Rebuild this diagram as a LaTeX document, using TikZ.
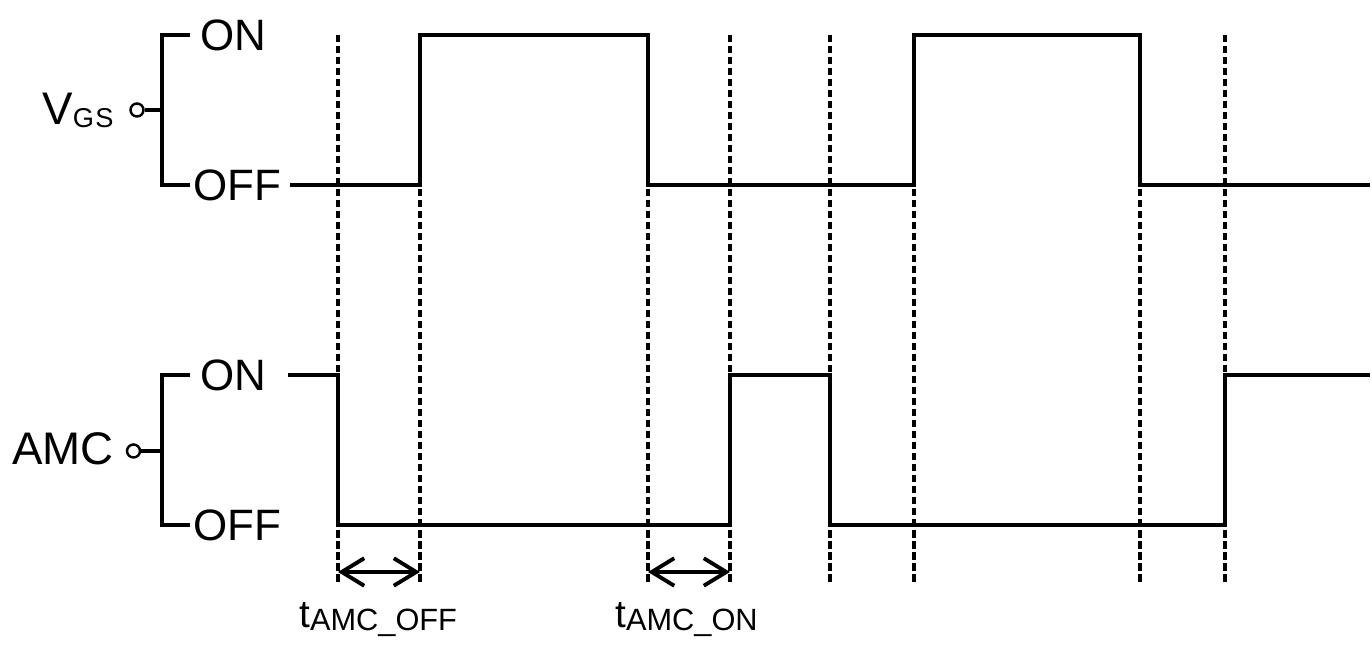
\documentclass[tikz,border=0pt]{standalone}
\usepackage{fontspec}
\setmainfont{Liberation Sans}
\usetikzlibrary{arrows.meta}

\tikzset{
  wave/.style={line width=2.8pt},
  guide/.style={line width=2.4pt, dash pattern=on 0.15cm off 0.07cm},
  term/.style={circle, draw, line width=1.4pt, minimum size=0.26cm, inner sep=0pt},
  level/.style={font=\fontsize{25}{30}\selectfont, inner sep=0pt, anchor=west},
  sig/.style={font=\fontsize{26}{30}\selectfont, inner sep=0pt, anchor=base east},
  delay/.style={line width=2.2pt, {Straight Barb[length=0.45cm,width=0.55cm]}-{Straight Barb[length=0.45cm,width=0.55cm]}},
}

\begin{document}
\begin{tikzpicture}[x=0.2cm,y=0.2cm]
\useasboundingbox (0,0) rectangle (137.2,65.1);
% guide lines
\foreach \x in {33.8,42.0,64.8,73.0,83.0,91.4,114.0,122.5}
{       \draw [guide] (\x,61.6)--(\x,6.8);
}
% V_GS
\node [term] (vgs) at (13.7,54.1) {};
\node [sig] (vgslbl) at (11.4,52.6) {V{\fontsize{15.5}{17}\selectfont\raisebox{-0.06cm}{G\kern0.03cm S}}};
\draw [wave] (19,61.6)--(16.2,61.6)--(16.2,46.6)--(19,46.6);
\draw [wave] (vgs.east)--(16.2,54.1);
\node [level] (vgson) at (20.0,61.6) {ON};
\node [level] (vgsoff) at (19.3,46.6) {OFF};
\draw [wave] (29.0,46.6)--(42.0,46.6)--(42.0,61.6)--(64.8,61.6)--(64.8,46.6)
  --(91.4,46.6)--(91.4,61.6)--(114.0,61.6)--(114.0,46.6)--(137.0,46.6);
% AMC
\node [term] (amc) at (13.35,20.0) {};
\node [sig] (amclbl) at (11.4,18.6) {AMC};
\draw [wave] (19,27.6)--(16.2,27.6)--(16.2,12.6)--(19,12.6);
\draw [wave] (amc.east)--(16.2,20.0);
\node [level] (amcon) at (20.0,27.6) {ON};
\node [level] (amcoff) at (19.3,12.6) {OFF};
\draw [wave] (28.8,27.6)--(33.8,27.6)--(33.8,12.6)--(73.0,12.6)--(73.0,27.6)
  --(83.0,27.6)--(83.0,12.6)--(122.5,12.6)--(122.5,27.6)--(137.0,27.6);
% delays
\coordinate (offa) at (33.8,7.9);
\coordinate (offb) at (42.0,7.9);
\coordinate (ona) at (64.8,7.9);
\coordinate (onb) at (73.0,7.9);
\draw [delay] (offa)--(offb);
\draw [delay] (ona)--(onb);
\node [inner sep=0pt, anchor=base west, font=\fontsize{22}{26}\selectfont] (toff) at (29.9,2.35)
  {t{\fontsize{17.5}{20}\selectfont\raisebox{-0.06cm}{AMC\_OFF}}};
\node [inner sep=0pt, anchor=base west, font=\fontsize{22}{26}\selectfont] (ton) at (61.5,2.35)
  {t{\fontsize{17.5}{20}\selectfont\raisebox{-0.06cm}{AMC\_ON}}};
\end{tikzpicture}
\end{document}
